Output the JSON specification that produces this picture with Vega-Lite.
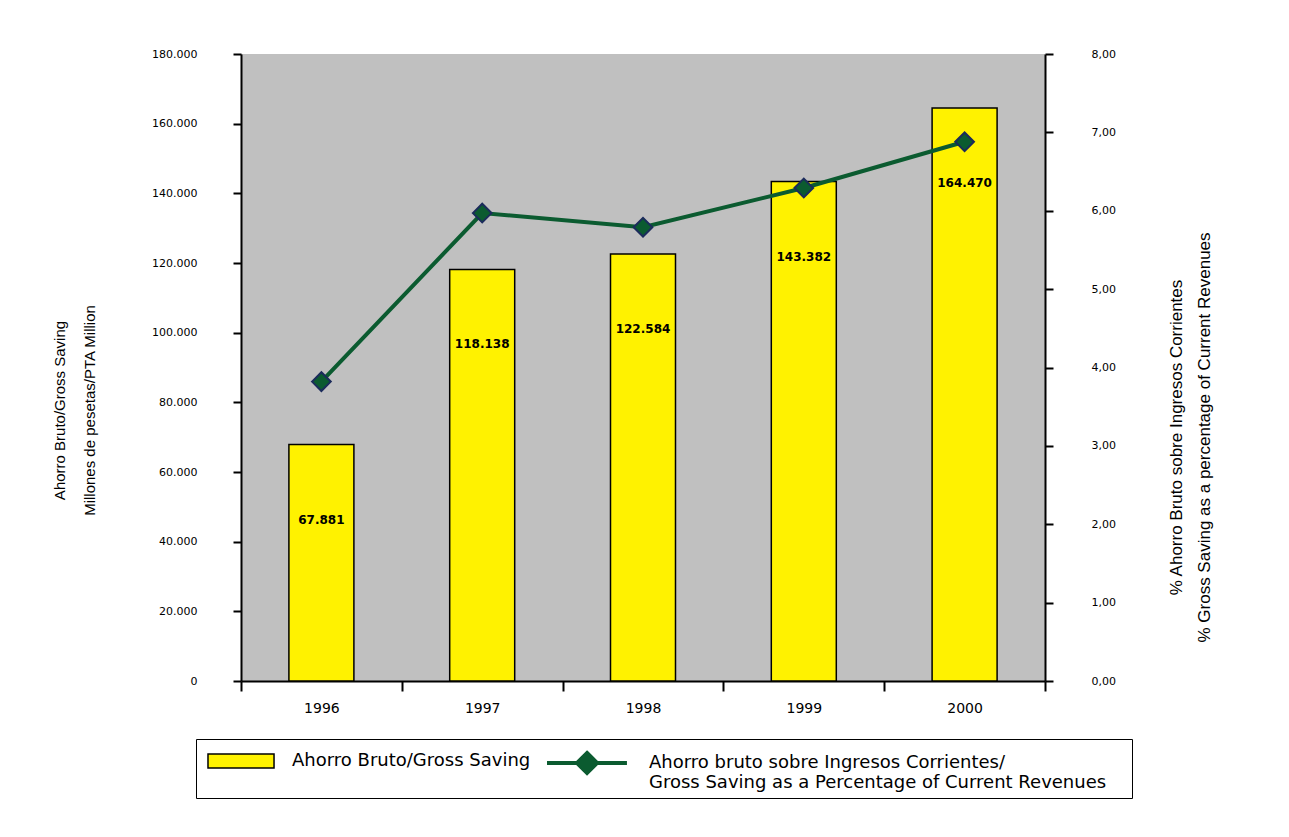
{
  "$schema": "https://vega.github.io/schema/vega-lite/v6.json",
  "width": 804,
  "height": 627,
  "autosize": {"type": "none"},
  "padding": {"left": 241, "top": 54, "right": 244, "bottom": 156},
  "background": "white",
  "config": {
    "locale": {"number": {"decimal": ",", "thousands": ".", "grouping": [3], "currency": ["", " €"]}},
    "view": {"stroke": null, "fill": "#C0C0C0"},
    "axis": {
      "domainColor": "black", "domainWidth": 2,
      "tickColor": "black", "tickWidth": 2, "tickSize": 8,
      "labelColor": "black", "titleColor": "black", "grid": false,
      "labelFont": "DejaVu Sans", "labelFontSize": 11
    }
  },
  "data": {"values": [
    {"year": "1996", "saving": 67881, "pct": 3.82},
    {"year": "1997", "saving": 118138, "pct": 5.97},
    {"year": "1998", "saving": 122584, "pct": 5.79},
    {"year": "1999", "saving": 143382, "pct": 6.29},
    {"year": "2000", "saving": 164470, "pct": 6.88}
  ]},
  "encoding": {
    "x": {
      "field": "year", "type": "ordinal",
      "scale": {"paddingInner": 0, "paddingOuter": 0},
      "axis": {"title": null, "tickBand": "extent", "labelAngle": 0, "labelFontSize": 14, "labelPadding": 10, "tickSize": 10}
    }
  },
  "layer": [
    {
      "layer": [
        {
          "mark": {"type": "bar", "stroke": "black", "strokeWidth": 1.5, "size": 65},
          "encoding": {
            "y": {
              "field": "saving", "type": "quantitative",
              "scale": {"domain": [0, 180000], "nice": false},
              "axis": {
                "orient": "left",
                "values": [0, 20000, 40000, 60000, 80000, 100000, 120000, 140000, 160000, 180000],
                "format": ",d",
                "labelPadding": 36,
                "title": ["Ahorro Bruto/Gross Saving", "Millones de pesetas/PTA Million"],
                "titleFont": "Liberation Sans", "titleFontSize": 15, "titleFontWeight": "normal",
                "titleLineHeight": 30, "titleAngle": 270, "titleBaseline": "middle",
                "titleX": -182, "titleY": 356
              }
            },
            "fill": {
              "datum": "Ahorro Bruto/Gross Saving",
              "scale": {"domain": ["Ahorro Bruto/Gross Saving"], "range": ["#FFF200"]},
              "legend": {
                "orient": "none", "legendX": -45, "legendY": 685,
                "title": null,
                "strokeColor": "black", "padding": 8,
                "symbolSize": 676,
                "symbolType": "M-0.77,-0.54H4.31V0.54H-0.77ZM69.46,0",
                "symbolFillColor": "#FFF200",
                "symbolStrokeColor": "black", "symbolStrokeWidth": 1.5, "symbolOpacity": 1,
                "labelOffset": 60,
                "labelFont": "DejaVu Sans", "labelFontSize": 18, "labelColor": "black", "labelLimit": 1200,
                "labelExpr": "[datum.label, ' ']"
              }
            }
          }
        },
        {
          "mark": {"type": "text", "font": "DejaVu Sans", "fontSize": 12, "fontWeight": "bold", "color": "black", "baseline": "middle", "dy": 75},
          "encoding": {
            "y": {"field": "saving", "type": "quantitative"},
            "text": {"field": "saving", "type": "quantitative", "format": ",d"}
          }
        }
      ]
    },
    {
      "layer": [
        {
          "mark": {"type": "line", "strokeWidth": 4},
          "encoding": {
            "y": {
              "field": "pct", "type": "quantitative",
              "scale": {"domain": [0, 8], "nice": false},
              "axis": {
                "orient": "right",
                "values": [0, 1, 2, 3, 4, 5, 6, 7, 8],
                "format": ".2f",
                "labelPadding": 38,
                "title": ["% Ahorro Bruto sobre Ingresos Corrientes", "% Gross Saving as a percentage of Current Revenues"],
                "titleFont": "Liberation Sans", "titleFontSize": 17, "titleFontWeight": "normal",
                "titleLineHeight": 28, "titleAngle": 270, "titleBaseline": "middle",
                "titleX": 131, "titleY": 383
              }
            },
            "stroke": {
              "datum": "Ahorro bruto sobre Ingresos Corrientes/",
              "scale": {"domain": ["Ahorro bruto sobre Ingresos Corrientes/"], "range": ["#0B5B30"]},
              "legend": {
                "orient": "none", "legendX": 304, "legendY": 694,
                "title": null, "padding": 0,
                "symbolSize": 676,
                "symbolType": "M-1,0H5.15M2.08,-0.77L2.85,0L2.08,0.77L1.31,0ZM2.08,-0.55L2.63,0L2.08,0.55L1.53,0ZM2.08,-0.33L2.41,0L2.08,0.33L1.75,0ZM2.08,-0.12L2.2,0L2.08,0.12L1.96,0Z",
                "symbolStrokeColor": "#0B5B30", "symbolStrokeWidth": 4, "symbolOpacity": 1,
                "labelOffset": 74,
                "labelFont": "DejaVu Sans", "labelFontSize": 18, "labelColor": "black", "labelLimit": 1200,
                "labelExpr": "['Ahorro bruto sobre Ingresos Corrientes/', 'Gross Saving as a Percentage of Current Revenues']"
              }
            }
          }
        },
        {
          "mark": {"type": "point", "shape": "diamond", "filled": true, "fill": "#0B5B30", "stroke": "#1B2B5B", "strokeWidth": 2, "size": 350, "opacity": 1},
          "encoding": {
            "y": {"field": "pct", "type": "quantitative"}
          }
        }
      ]
    }
  ],
  "resolve": {"scale": {"y": "independent"}}
}
